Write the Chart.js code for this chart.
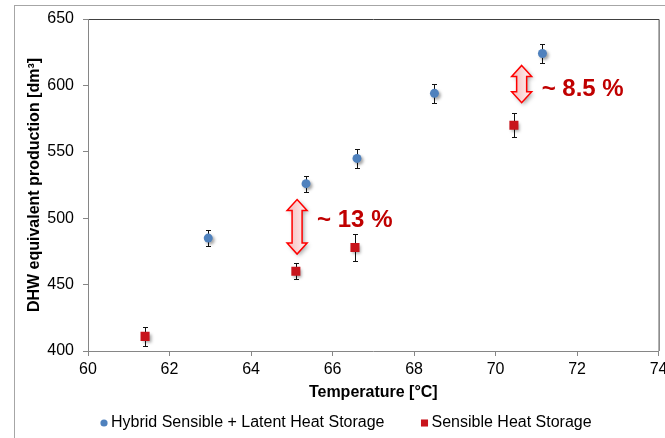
<!DOCTYPE html>
<html>
<head>
<meta charset="utf-8">
<script src="https://cdn.jsdelivr.net/npm/chart.js@4.4.1/dist/chart.umd.min.js"></script>
<style>
  html, body { margin: 0; padding: 0; background: #fff; }
</style>
</head>
<body>
<canvas id="chart" width="665" height="438"></canvas>
<script>
// Values: temperature [°C] vs DHW production [dm³]
const hybridTemps = [62.95, 65.35, 66.6, 68.5, 71.15];
const hybridValues = [485, 526, 545, 594, 624];
const hybridErrors = [6, 6, 7, 7, 7];

const sensibleTemps = [61.4, 65.1, 66.55, 70.45];
const sensibleValues = [411, 460, 478, 570];
const sensibleErrors = [7, 6, 10, 9];

const xTicks = [60, 62, 64, 66, 68, 70, 72, 74];
const yTicks = [400, 450, 500, 550, 600, 650];

// Gap annotations (arrow between the series + label)
const gapLabels = ['~ 13 %', '~ 8.5 %'];
const gapTemps = [65.13, 70.64];
const gapLow = [473, 587];
const gapHigh = [514, 615];
const gapLabelValues = [498, 597];

const FONT = "'Liberation Sans', Arial, sans-serif";
const BLUE = '#4f81bd';
const RED = '#c8141c';
const AXIS = '#868686';

// outer chart frame + top/right border of the plot area
const frame = {
  id: 'frame',
  beforeDraw(chart) {
    const ctx = chart.ctx;
    ctx.save();
    ctx.strokeStyle = '#a6a6a6';
    ctx.lineWidth = 1;
    ctx.strokeRect(14.5, 5.5, chart.width, chart.height);
    const a = chart.chartArea;
    ctx.strokeStyle = '#404040';
    ctx.beginPath();
    ctx.moveTo(a.left, a.top + 0.5);
    ctx.lineTo(a.right + 0.5, a.top + 0.5);
    ctx.lineTo(a.right + 0.5, a.bottom);
    ctx.stroke();
    ctx.restore();
  }
};

// vertical error bars, then a soft shadow for the markers
const errorBars = {
  id: 'errorBars',
  beforeDatasetsDraw(chart) {
    const { ctx, scales: { x, y } } = chart;
    ctx.save();
    ctx.lineWidth = 1;
    ctx.strokeStyle = '#111';
    chart.data.datasets.forEach(ds => {
      ds.data.forEach((p, i) => {
        const px = Math.round(x.getPixelForValue(p.x)) + 0.5;
        const top = Math.round(y.getPixelForValue(p.y + ds.errors[i])) + 0.5;
        const bot = Math.round(y.getPixelForValue(p.y - ds.errors[i])) + 0.5;
        ctx.beginPath();
        ctx.moveTo(px, top); ctx.lineTo(px, bot);
        ctx.moveTo(px - 2.5, top); ctx.lineTo(px + 2.5, top);
        ctx.moveTo(px - 2.5, bot); ctx.lineTo(px + 2.5, bot);
        ctx.stroke();
      });
    });
    ctx.restore();
    ctx.save();
    ctx.shadowColor = 'rgba(0,0,0,0.35)';
    ctx.shadowBlur = 3;
    ctx.shadowOffsetX = 2;
    ctx.shadowOffsetY = 2;
  },
  afterDatasetsDraw(chart) {
    chart.ctx.restore();
  }
};

function arrowPath(ctx, cx, top, bot) {
  const hw = 10, sw = 5, hl = 11;
  ctx.beginPath();
  ctx.moveTo(cx, top);
  ctx.lineTo(cx + hw, top + hl);
  ctx.lineTo(cx + sw, top + hl);
  ctx.lineTo(cx + sw, bot - hl);
  ctx.lineTo(cx + hw, bot - hl);
  ctx.lineTo(cx, bot);
  ctx.lineTo(cx - hw, bot - hl);
  ctx.lineTo(cx - sw, bot - hl);
  ctx.lineTo(cx - sw, top + hl);
  ctx.lineTo(cx - hw, top + hl);
  ctx.closePath();
}

const gapNotes = {
  id: 'gapNotes',
  afterDatasetsDraw(chart) {
    const { ctx, scales: { x, y } } = chart;
    gapLabels.forEach((text, i) => {
      const cx = x.getPixelForValue(gapTemps[i]);
      const top = y.getPixelForValue(gapHigh[i]);
      const bot = y.getPixelForValue(gapLow[i]);
      ctx.save();
      arrowPath(ctx, cx, top, bot);
      const g = ctx.createLinearGradient(cx - 5, 0, cx + 5, 0);
      g.addColorStop(0, '#f7c6c6');
      g.addColorStop(1, '#fde4e4');
      ctx.fillStyle = g;
      ctx.shadowColor = 'rgba(0,0,0,0.35)';
      ctx.shadowBlur = 4;
      ctx.shadowOffsetX = 2;
      ctx.shadowOffsetY = 2;
      ctx.fill();
      ctx.shadowColor = 'transparent';
      ctx.strokeStyle = '#ff0000';
      ctx.lineWidth = 1.5;
      ctx.stroke();

      ctx.fillStyle = '#c00000';
      ctx.font = 'bold 24px ' + FONT;
      ctx.textAlign = 'left';
      ctx.textBaseline = 'middle';
      ctx.fillText(text, cx + 20, y.getPixelForValue(gapLabelValues[i]));
      ctx.restore();
    });
  }
};

// Excel-style legend row under the axis title
const bottomLegend = {
  id: 'bottomLegend',
  afterDraw(chart) {
    const ctx = chart.ctx;
    const cy = chart.height - 15;
    let x = chart.chartArea.left + 12;
    ctx.save();
    ctx.font = '16px ' + FONT;
    ctx.textBaseline = 'middle';
    ctx.textAlign = 'left';
    chart.data.datasets.forEach(ds => {
      ctx.fillStyle = ds.backgroundColor;
      Chart.helpers.drawPoint(ctx, {
        pointStyle: ds.pointStyle,
        radius: ds.pointStyle === 'rect' ? 5 : 3.6,
        rotation: 0,
        borderWidth: 0
      }, x + 4, cy);
      ctx.fillStyle = '#000';
      ctx.fillText(ds.label, x + 11, cy);
      x += 11 + ctx.measureText(ds.label).width + 36;
    });
    ctx.restore();
  }
};

new Chart(document.getElementById('chart'), {
  type: 'scatter',
  data: {
    datasets: [
      {
        label: 'Hybrid Sensible + Latent Heat Storage',
        data: hybridTemps.map((t, i) => ({ x: t, y: hybridValues[i] })),
        errors: hybridErrors,
        pointStyle: 'circle',
        pointRadius: 4.5,
        borderWidth: 0,
        backgroundColor: BLUE,
        borderColor: BLUE
      },
      {
        label: 'Sensible Heat Storage',
        data: sensibleTemps.map((t, i) => ({ x: t, y: sensibleValues[i] })),
        errors: sensibleErrors,
        pointStyle: 'rect',
        pointRadius: 6.4,
        borderWidth: 0,
        backgroundColor: RED,
        borderColor: RED
      }
    ]
  },
  options: {
    responsive: false,
    animation: false,
    layout: { padding: { left: 14, top: 19, right: 4, bottom: 36 } },
    scales: {
      x: {
        type: 'linear',
        min: 60,
        max: 74,
        afterBuildTicks: s => { s.ticks = xTicks.map(v => ({ value: v })); },
        afterFit: s => { s.height = 51; s.paddingLeft = 0; s.paddingRight = 0; },
        grid: { drawOnChartArea: false, tickLength: 5, color: AXIS },
        border: { color: AXIS },
        ticks: { color: '#000', padding: 4, maxRotation: 0, font: { size: 16, family: FONT } },
        title: {
          display: true,
          text: 'Temperature [°C]',
          color: '#000',
          padding: { top: 4, bottom: 0 },
          font: { size: 16, weight: 'bold', family: FONT }
        }
      },
      y: {
        min: 400,
        max: 650,
        afterBuildTicks: s => { s.ticks = yTicks.map(v => ({ value: v })); },
        afterFit: s => { s.width = 74; s.paddingTop = 0; s.paddingBottom = 0; },
        grid: { drawOnChartArea: false, tickLength: 5, color: AXIS },
        border: { color: AXIS },
        ticks: { color: '#000', padding: 9, font: { size: 16, family: FONT } },
        title: {
          display: true,
          text: 'DHW equivalent production [dm³]',
          color: '#000',
          padding: { top: 11, bottom: 4 },
          font: { size: 16, weight: 'bold', family: FONT }
        }
      }
    },
    plugins: {
      legend: { display: false },
      tooltip: { enabled: false }
    }
  },
  plugins: [frame, errorBars, gapNotes, bottomLegend]
});
</script>
</body>
</html>
